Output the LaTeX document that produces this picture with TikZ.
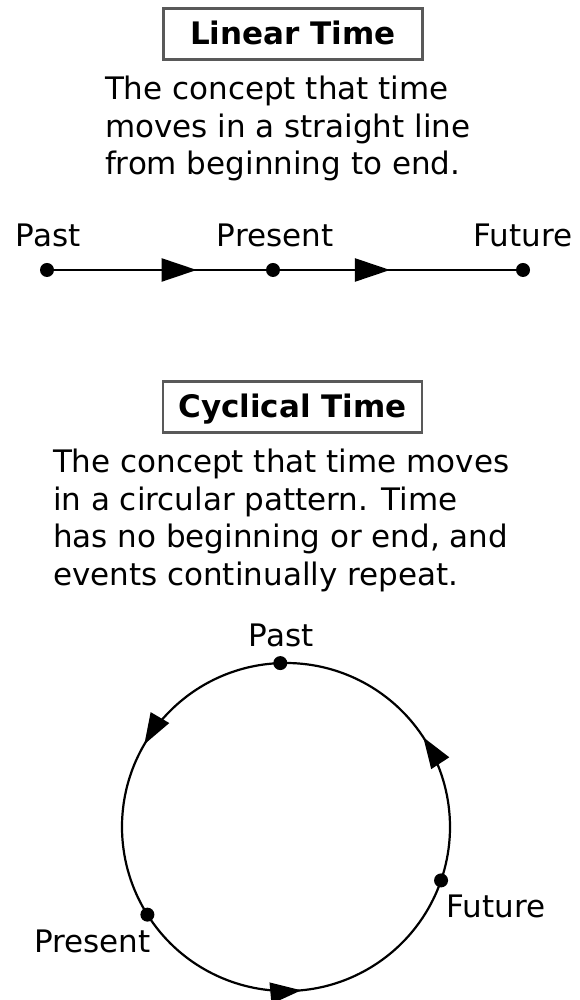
\documentclass[tikz,border=0pt]{standalone}
\usepackage{fontspec}
\setmainfont{DejaVu Sans}
\usetikzlibrary{arrows.meta,decorations.markings}
\begin{document}
\begin{tikzpicture}[x=1pt,y=1pt,
  every node/.style={inner sep=0pt, outer sep=0pt},
  body/.style={font=\fontsize{31}{37.6}\selectfont, align=left, anchor=north west},
  lbl/.style={font=\fontsize{31}{37.6}\selectfont, anchor=base},
  titlebox/.style={draw=black!65, line width=2.5pt, minimum width=259pt, minimum height=51pt,
    font=\fontsize{31}{37.6}\bfseries\selectfont, text height=22pt, text depth=0pt},
  dot/.style={circle, fill=black, minimum size=14pt},
  conn/.style={line width=2.2pt},
  midarrow/.style={postaction={decorate}, decoration={markings,
    mark=at position #1 with {\arrow{Triangle[length=35pt,width=23pt]}}}},
  arcarrow/.style={postaction={decorate}, decoration={markings,
    mark=at position #1 with {\arrow{Triangle[length=31pt,width=21pt]}}}}
]
\useasboundingbox (0,0) rectangle (580,1000);

% Linear time
\node[titlebox] (ltitle) at (293,966) {Linear Time};
\node[body] (ldesc) at (105,924) {The concept that time\\moves in a straight line\\from beginning to end.};

\node[dot] (lpast) at (47,730) {};
\node[dot] (lpresent) at (273,730) {};
\node[dot] (lfuture) at (523,730) {};
\node[lbl] (lpastl) at (48,753) {Past};
\node[lbl] (lpresentl) at (275,753) {Present};
\node[lbl] (lfuturel) at (523,753) {Future};
\draw[conn, midarrow=0.673] (lpast) -- (lpresent);
\draw[conn, midarrow=0.466] (lpresent) -- (lfuture);

% Cyclical time
\node[titlebox] (ctitle) at (292.5,593) {Cyclical Time};
\node[body] (cdesc) at (53,551) {The concept that time moves\\in a circular pattern. Time\\has no beginning or end, and\\events continually repeat.};

\coordinate (c) at (286,173);
\node[dot] (cpast) at ([shift={(92:164pt)}]c) {};
\node[dot] (cpresent) at ([shift={(212.3:164pt)}]c) {};
\node[dot] (cfuture) at ([shift={(341:164pt)}]c) {};
\node[lbl] (cpastl) at (281,353) {Past};
\node[lbl] (cpresentl) at (92.5,47) {Present};
\node[lbl] (cfuturel) at (496,82) {Future};

\draw[conn, arcarrow=0.48] (cpast.center) arc[start angle=92, end angle=212.3, radius=164pt];
\draw[conn, arcarrow=0.49] (cpresent.center) arc[start angle=212.3, end angle=341, radius=164pt];
\draw[conn, arcarrow=0.47] (cfuture.center) arc[start angle=341, end angle=452, radius=164pt];
\end{tikzpicture}
\end{document}
